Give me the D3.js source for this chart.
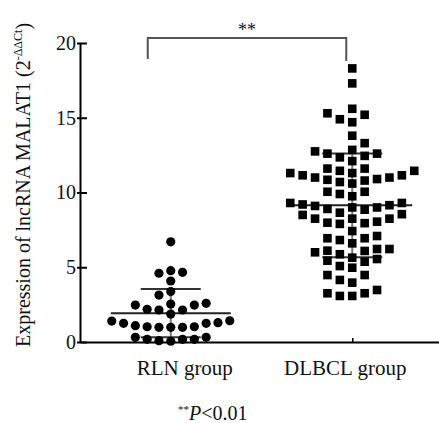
<!DOCTYPE html>
<html lang="en">
<head>
  <meta charset="utf-8" />
  <title>lncRNA MALAT1 expression</title>
  <script src="https://d3js.org/d3.v7.min.js"></script>
  <style>
    body { margin: 0; background: #fff; }
    svg { display: block; }
    text { font-family: "Liberation Serif", "Times New Roman", serif; fill: #111; }
  </style>
</head>
<body>
  <svg id="viz"></svg>
  <script>
    const W = 439, H = 423;

    // data
    const groups = ["RLN group", "DLBCL group"];
    const rlnValues = [6.7, 4.77, 4.6, 4.66, 4.08, 3.37, 3.14,
      2.59, 2.54, 2.47, 2.47, 1.87, 2.14, 2.14, 2.19,
      0.98, 1.4, 1.25, 1.09, 1.02, 0.98, 1.02, 1.25, 1.29, 0.98, 1.42,
      0.31, 0.18, 0.09, 0.18, 0.18, 0.31, 0.05];
    const dlbclValues = [18.3, 17.3, 15.6, 15.2, 14.7, 14.9, 15.3, 13.8, 13.3,
      12.85, 12.6, 12.45, 12.1, 12.35, 12.6, 12.75,
      11.6, 11.45, 11.3, 11.15, 11.0, 11.0, 11.15, 11.3, 11.45, 11.6,
      10.85, 10.7, 10.6, 10.8, 10.9,
      10.05, 9.9, 10.05, 9.75,
      9.3, 9.15, 9.0, 8.9, 8.85, 9.0, 9.1, 9.2, 9.3,
      8.65, 8.55, 8.25, 8.05, 7.95, 7.9, 7.98, 8.25, 8.25, 8.5,
      7.42,
      6.94, 6.82, 6.6, 6.94, 7.09,
      6.22, 6.09, 5.87, 5.55, 5.37, 5.44, 5.64, 6.0, 6.11, 6.22,
      4.97, 5.08,
      4.48, 4.15, 4.48,
      3.97,
      3.48, 3.26, 3.08, 3.08, 3.26];
    const yTicks = [0, 5, 10, 15, 20];
    const sigLabel = "**";

    const svg = d3.select("#viz").attr("width", W).attr("height", H);

    const x = d3.scalePoint().domain(groups).range([80, 443]).padding(0.5);
    const y = d3.scaleLinear().domain([0, 20]).range([342, 43]);

    // prism-like scatter: ascending values, pushed sideways out of the way
    function swarm(values, cx, s, h) {
      const pts = values.map(v => ({ v, py: y(v) })).sort((a, b) => a.v - b.v);
      const placed = [];
      pts.forEach(p => {
        const near = placed.filter(q => Math.abs(q.py - p.py) < h);
        const cands = [0];
        near.forEach(q => cands.push(q.dx - s, q.dx + s));
        const left = near.filter(q => q.dx < 0).length;
        const right = near.filter(q => q.dx > 0).length;
        cands.sort((a, b) => Math.abs(a) - Math.abs(b) || (left <= right ? a - b : b - a));
        p.dx = cands.find(c => near.every(q => Math.abs(q.dx - c) >= s - 1e-6));
        placed.push(p);
      });
      return placed.map(p => ({ v: p.v, px: cx + p.dx, py: p.py }));
    }

    const series = [
      { name: groups[0], values: rlnValues, spread: 11.8 },
      { name: groups[1], values: dlbclValues, spread: 12.4 }
    ];
    series.forEach(s => {
      s.mean = d3.mean(s.values);
      s.sd = d3.deviation(s.values);
      s.pts = swarm(s.values, x(s.name), s.spread, 10);
    });

    // axes
    const yAxis = svg.append("g")
      .attr("transform", "translate(80,0)")
      .call(d3.axisLeft(y).tickValues(yTicks).tickSize(-7).tickSizeOuter(0).tickPadding(4));
    yAxis.selectAll(".tick line").attr("x1", -3);
    yAxis.select(".domain").attr("stroke-width", 2);
    yAxis.selectAll(".tick line").attr("stroke-width", 2);
    yAxis.selectAll(".tick text")
      .style("font-size", "20px")
      .style("font-family", "'Liberation Serif', serif")
      .attr("fill", "#111");

    const xAxis = svg.append("g")
      .attr("transform", "translate(0,342)")
      .call(d3.axisBottom(x).tickSize(-4).tickSizeOuter(0).tickFormat(""));
    xAxis.select(".domain").attr("stroke-width", 2);
    xAxis.selectAll(".tick line").attr("stroke-width", 1.5);

    // error bars (mean ± SD)
    const bars = svg.append("g");
    series.forEach(s => {
      const cx = x(s.name);
      bars.append("line")
        .attr("x1", cx).attr("x2", cx)
        .attr("y1", y(s.mean + s.sd)).attr("y2", y(s.mean - s.sd))
        .attr("stroke", "#777").attr("stroke-width", 2);
      [s.mean + s.sd, s.mean - s.sd].forEach(v => {
        bars.append("line")
          .attr("x1", cx - 30).attr("x2", cx + 30)
          .attr("y1", y(v)).attr("y2", y(v))
          .attr("stroke", "#333").attr("stroke-width", 2);
      });
      bars.append("line")
        .attr("x1", cx - 60).attr("x2", cx + 60)
        .attr("y1", y(s.mean)).attr("y2", y(s.mean))
        .attr("stroke", "#222").attr("stroke-width", 2);
    });

    // points
    const dots = svg.append("g");
    dots.selectAll("circle")
      .data(series[0].pts)
      .join("circle")
      .attr("cx", d => d.px).attr("cy", d => d.py)
      .attr("r", 4.6).attr("fill", "#000");
    dots.selectAll("rect")
      .data(series[1].pts)
      .join("rect")
      .attr("x", d => d.px - 4.3).attr("y", d => d.py - 4.3)
      .attr("width", 8.6).attr("height", 8.6).attr("fill", "#000");

    // group labels
    const labelShift = [14, -7];
    svg.append("g").selectAll("text")
      .data(groups)
      .join("text")
      .attr("x", (d, i) => x(d) + labelShift[i])
      .attr("y", 375)
      .attr("text-anchor", "middle")
      .style("font-size", "21px")
      .text(d => d);

    // y title
    const yt = svg.append("text")
      .attr("transform", "translate(30,347) rotate(-90)")
      .style("font-size", "20px");
    yt.append("tspan").text("Expression of lncRNA MALAT1 (2");
    yt.append("tspan").attr("dy", -8).style("font-size", "12px").text("-ΔΔCt");
    yt.append("tspan").attr("dy", 8).text(")");

    // significance bracket
    const bx1 = x(groups[0]) - 23, bx2 = x(groups[1]) - 6;
    svg.append("path")
      .attr("d", `M${bx1},59V38H${bx2}V61`)
      .attr("fill", "none").attr("stroke", "#555").attr("stroke-width", 2);
    svg.append("text")
      .attr("x", (bx1 + bx2) / 2).attr("y", 36)
      .attr("text-anchor", "middle")
      .style("font-size", "18px")
      .text(sigLabel);

    // footnote
    const fn = svg.append("text").attr("x", 178).attr("y", 420).style("font-size", "20px");
    fn.append("tspan").attr("dy", -7).style("font-size", "11px").text("**");
    fn.append("tspan").attr("dy", 7).style("font-style", "italic").text("P");
    fn.append("tspan").text("<0.01");
  </script>
</body>
</html>
